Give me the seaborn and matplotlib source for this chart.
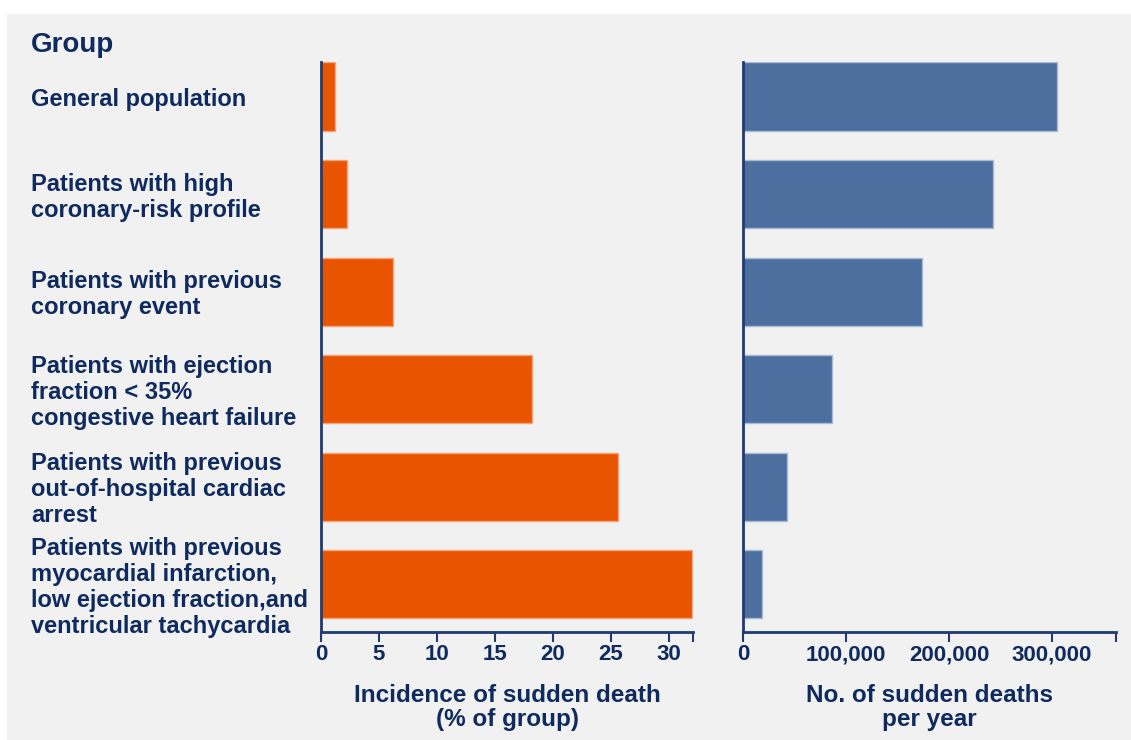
import matplotlib
matplotlib.use("Agg")
import matplotlib.pyplot as plt
import matplotlib.transforms as mtransforms
from matplotlib.patches import Rectangle
import seaborn as sns
import pandas as pd

# ---- data ----
groups = [
    "General population",
    "Patients with high\ncoronary-risk profile",
    "Patients with previous\ncoronary event",
    "Patients with ejection\nfraction < 35%\ncongestive heart failure",
    "Patients with previous\nout-of-hospital cardiac\narrest",
    "Patients with previous\nmyocardial infarction,\nlow ejection fraction,and\nventricular tachycardia",
]
incidence_pct = [1.2, 2.2, 6.2, 18.2, 25.6, 32.0]
deaths_per_year = [305000, 243000, 174000, 86000, 43000, 18000]
left_ticks = [0, 5, 10, 15, 20, 25, 30]
right_ticks = [0, 100000, 200000, 300000]
right_tick_labels = ["0", "100,000", "200,000", "300,000"]
left_xlabel = "Incidence of sudden death\n(% of group)"
right_xlabel = "No. of sudden deaths\nper year"
title = "Group"

df = pd.DataFrame({"group": groups, "incidence": incidence_pct, "deaths": deaths_per_year})

# ---- style ----
sns.set_theme(style="white")
plt.rcParams["font.family"] = ["Liberation Sans", "DejaVu Sans"]
plt.rcParams["font.weight"] = "bold"

NAVY = "#0e2a5e"
SPINE = "#1f3b70"
ORANGE = "#e85400"
BLUE = "#4d6f9f"

W, H = 1131, 740
fig = plt.figure(figsize=(W / 100, H / 100), dpi=100, facecolor="white")
fig.patches.append(Rectangle((7 / W, 0), 1 - 7 / W, 1 - 14 / H, transform=fig.transFigure,
                             facecolor="#f1f1f1", edgecolor="none", zorder=-10))

def ax_rect(x0, x1, y0, y1):
    return [x0 / W, 1 - y1 / H, (x1 - x0) / W, (y1 - y0) / H]

ax1 = fig.add_axes(ax_rect(321, 693, 62, 632))
ax2 = fig.add_axes(ax_rect(743, 1116, 62, 632))

sns.barplot(data=df, x="incidence", y="group", orient="h", color=ORANGE, saturation=1,
            width=0.70, edgecolor="#f5a37a", linewidth=1, ax=ax1)
sns.barplot(data=df, x="deaths", y="group", orient="h", color=BLUE, saturation=1,
            width=0.70, edgecolor="#a9bad4", linewidth=1, ax=ax2)

for ax, xmax, ticks, labels, xlabel in [
    (ax1, 32.07, left_ticks, [str(t) for t in left_ticks], left_xlabel),
    (ax2, 362000, right_ticks, right_tick_labels, right_xlabel),
]:
    ax.set_facecolor("none")
    ax.set_xlim(0, xmax)
    ax.set_ylim(5.49, -0.355)
    ax.set_xticks(ticks + [xmax])
    ax.set_xticklabels(labels + [""], fontsize=16, fontweight="bold", color=NAVY)
    ax.tick_params(axis="x", direction="out", length=7, width=1.5, color=SPINE, pad=2, bottom=True)
    ax.tick_params(axis="y", left=False, labelleft=False)
    ax.set_yticks([])
    ax.set_ylabel("")
    ax.set_xlabel(xlabel, fontsize=17.5, fontweight="bold", color=NAVY, labelpad=13, linespacing=1.1)
    for side in ["top", "right"]:
        ax.spines[side].set_visible(False)
    for side in ["left", "bottom"]:
        ax.spines[side].set_visible(True)
        ax.spines[side].set_color(SPINE)
        ax.spines[side].set_linewidth(2)
    ax.spines["left"].set_zorder(5)

# category labels, vertically centred on each bar
trans = mtransforms.blended_transform_factory(fig.transFigure, ax1.transData)
for i, g in enumerate(groups):
    ax1.text(31 / W, i + 0.03, g, transform=trans, ha="left", va="center", fontsize=17,
             fontweight="bold", color=NAVY, linespacing=1.17, clip_on=False)

fig.text(31 / W, 1 - 52 / H, title, ha="left", va="baseline", fontsize=20,
         fontweight="bold", color=NAVY)

fig.savefig("out.png", dpi=100, facecolor="white")
